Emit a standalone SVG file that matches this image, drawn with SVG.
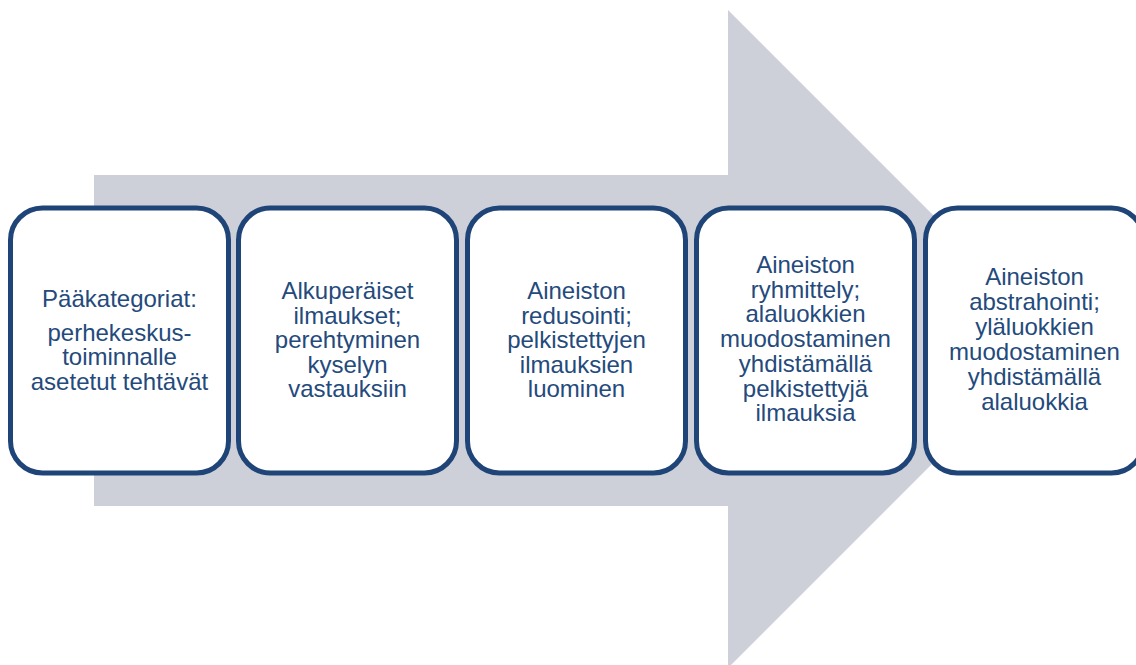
<svg xmlns="http://www.w3.org/2000/svg" width="1136" height="665" viewBox="0 0 1136 665">
<style>
.box{fill:#FFFFFF;stroke:#1F4477;stroke-width:5}
.t{font-family:"Liberation Sans",Arial,sans-serif;font-size:24px;fill:#244A7C;text-anchor:middle}
</style>
<rect width="1136" height="665" fill="#FFFFFF"/>
<g id="arrow">
<polygon points="94,175 728,175 728,10 1057,339 728,668 728,506 94,506" fill="#CDD0D9"/>
</g>
<g id="node1">
<rect class="box" x="10.5" y="208" width="218" height="265" rx="32"/>
<text class="t" x="119.5" y="307">Pääkategoriat:</text>
<text class="t" x="119.5" y="340.5">perhekeskus-</text>
<text class="t" x="119.5" y="365.3">toiminnalle</text>
<text class="t" x="119.5" y="390.1">asetetut tehtävät</text>
</g>
<g id="node2">
<rect class="box" x="238.5" y="208" width="218" height="265" rx="32"/>
<text class="t" x="347.5" y="299">Alkuperäiset</text>
<text class="t" x="347.5" y="323.5">ilmaukset;</text>
<text class="t" x="347.5" y="348">perehtyminen</text>
<text class="t" x="347.5" y="372.5">kyselyn</text>
<text class="t" x="347.5" y="397">vastauksiin</text>
</g>
<g id="node3">
<rect class="box" x="467.5" y="208" width="218" height="265" rx="32"/>
<text class="t" x="576.5" y="299">Aineiston</text>
<text class="t" x="576.5" y="323.5">redusointi;</text>
<text class="t" x="576.5" y="348">pelkistettyjen</text>
<text class="t" x="576.5" y="372.5">ilmauksien</text>
<text class="t" x="576.5" y="397">luominen</text>
</g>
<g id="node4">
<rect class="box" x="696.5" y="208" width="218" height="265" rx="32"/>
<text class="t" x="805.5" y="273">Aineiston</text>
<text class="t" x="805.5" y="297.7">ryhmittely;</text>
<text class="t" x="805.5" y="322.4">alaluokkien</text>
<text class="t" x="805.5" y="347.1">muodostaminen</text>
<text class="t" x="805.5" y="371.8">yhdistämällä</text>
<text class="t" x="805.5" y="396.5">pelkistettyjä</text>
<text class="t" x="805.5" y="421.2">ilmauksia</text>
</g>
<g id="node5">
<rect class="box" x="925.5" y="208" width="218" height="265" rx="32"/>
<text class="t" x="1034.5" y="285">Aineiston</text>
<text class="t" x="1034.5" y="310">abstrahointi;</text>
<text class="t" x="1034.5" y="335">yläluokkien</text>
<text class="t" x="1034.5" y="360">muodostaminen</text>
<text class="t" x="1034.5" y="385">yhdistämällä</text>
<text class="t" x="1034.5" y="410">alaluokkia</text>
</g>
<g id="connectors"></g>
</svg>
